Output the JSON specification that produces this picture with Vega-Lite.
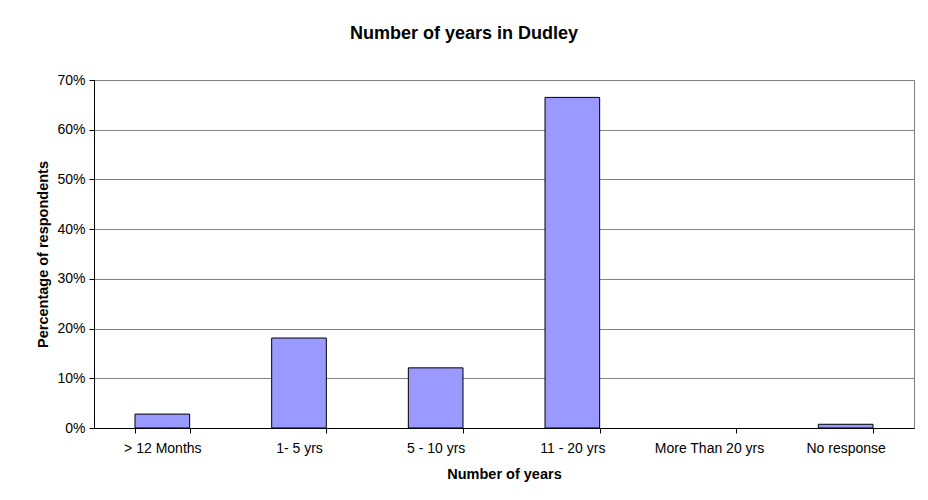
{
  "$schema": "https://vega.github.io/schema/vega-lite/v6.json",
  "autosize": "none",
  "width": 820,
  "height": 348,
  "padding": {"left": 94, "top": 80, "right": 14, "bottom": 72},
  "background": "white",
  "title": {
    "text": "Number of years in Dudley",
    "font": "Liberation Sans",
    "fontSize": 18,
    "fontWeight": "bold",
    "color": "black",
    "anchor": "middle",
    "dx": -40,
    "offset": 30
  },
  "data": {
    "values": [
      {"category": "> 12 Months", "pct": 0.028},
      {"category": "1- 5 yrs", "pct": 0.181},
      {"category": "5 - 10 yrs", "pct": 0.121},
      {"category": "11 - 20 yrs", "pct": 0.665},
      {"category": "More Than 20 yrs", "pct": null},
      {"category": "No response", "pct": 0.0075}
    ]
  },
  "mark": {"type": "bar", "fill": "#9999FF", "stroke": "black", "strokeWidth": 1},
  "encoding": {
    "x": {
      "field": "category",
      "type": "nominal",
      "sort": null,
      "scale": {
        "domain": ["> 12 Months", "1- 5 yrs", "5 - 10 yrs", "11 - 20 yrs", "More Than 20 yrs", "No response"],
        "paddingInner": 0.6,
        "paddingOuter": 0.3
      },
      "axis": {
        "title": "Number of years",
        "labelAngle": 0,
        "tickBand": "extent",
        "tickSize": 5,
        "labelPadding": 8,
        "titlePadding": 12
      }
    },
    "y": {
      "field": "pct",
      "type": "quantitative",
      "scale": {"domain": [0, 0.7], "nice": false},
      "axis": {
        "title": "Percentage of respondents",
        "format": ".0%",
        "values": [0, 0.1, 0.2, 0.3, 0.4, 0.5, 0.6, 0.7],
        "tickSize": 5,
        "labelPadding": 4,
        "titlePadding": 6,
        "grid": true,
        "gridColor": "#808080",
        "gridOpacity": 1,
        "gridWidth": 1
      }
    }
  },
  "config": {
    "view": {"stroke": "#808080", "strokeWidth": 1},
    "axis": {
      "domainColor": "black",
      "tickColor": "black",
      "labelFont": "Liberation Sans",
      "labelFontSize": 14,
      "labelColor": "black",
      "titleFont": "Liberation Sans",
      "titleFontSize": 14.5,
      "titleFontWeight": "bold",
      "titleColor": "black"
    },
    "axisX": {"grid": false}
  }
}
